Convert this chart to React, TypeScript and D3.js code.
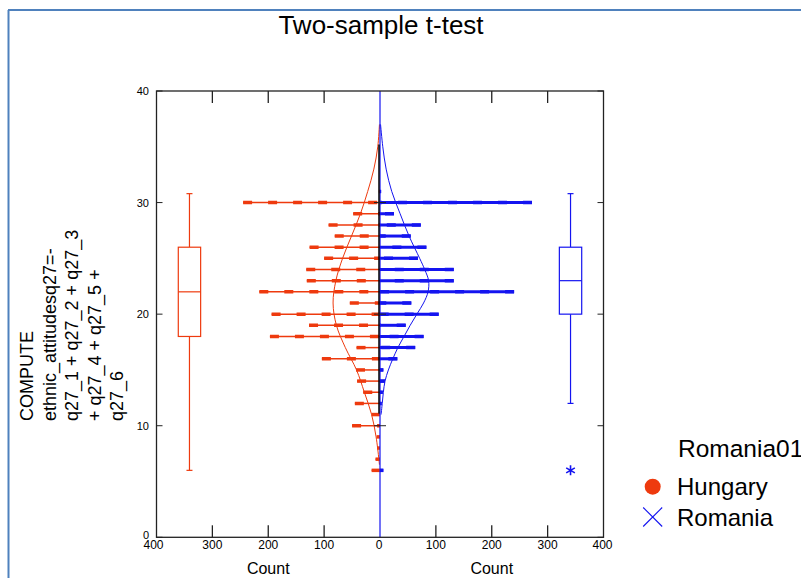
import React, { useEffect, useRef } from 'react';
import * as d3 from 'd3';

// histogram bins (score value) and counts per group
const binValues = [31, 30, 29, 28, 27, 26, 25, 24, 23, 22, 21, 20, 19, 18, 17, 16, 15, 14, 13, 12, 11, 10, 9, 8, 7, 6];
const hungaryCounts = [2, 245, 48, 92, 81, 126, 100, 132, 131, 216, 54, 194, 127, 197, 42, 104, 43, 41, 30, 45, 15, 50, 6, 5, 8, 15];
const romaniaCounts = [2, 272, 25, 73, 55, 83, 68, 132, 132, 240, 56, 105, 46, 78, 63, 31, 6, 9, 5, 3, 0, 0, 0, 0, 0, 6];

// fitted normal curves (value, count)
const hungaryCurve: [number, number][] = [
  [37, 1], [35, 4], [33, 11], [31, 22], [29, 35], [27, 51], [25, 67], [23, 79], [21, 84],
  [19, 78], [17, 62], [15, 42], [13, 28], [11, 15], [9, 7], [7, 2], [6.5, 1],
];
const romaniaCurve: [number, number][] = [
  [37, 1], [35, 5], [33, 11], [31, 21], [29, 36], [27, 52], [25, 71], [24, 80], [23, 87],
  [22, 86], [21, 78], [20, 66], [19, 54], [18, 43], [17, 32], [16, 23], [15, 15], [14, 9],
  [13, 6], [12, 4], [11, 2],
];

// box plot stats: [min whisker, q1, median, q3, max whisker]
const hungaryBox = [6, 18, 22, 26, 30.8];
const romaniaBox = [12, 20, 23, 26, 30.8];
const romaniaOutliers = [6];

const yTicks = [0, 10, 20, 30, 40];
const countTicks = [400, 300, 200, 100];
const titleLines = ['COMPUTE', 'ethnic_attitudesq27=-', 'q27_1 + q27_2 + q27_3', '+ q27_4 + q27_5 +', 'q27_6'];
const legendTitle = 'Romania01';
const groups = ['Hungary', 'Romania'];

const RED = '#ee3a0e';
const BLUE = '#1414f0';
const FONT = 'Liberation Sans, Arial, sans-serif';

export default function App() {
  const ref = useRef<SVGSVGElement>(null);

  useEffect(() => {
    const svg = d3.select(ref.current);
    svg.selectAll('*').remove();

    const width = 801;
    const height = 578;
    const left = 156.5, right = 603.5, mid = 380, top = 91, bottom = 537.3;

    svg.attr('width', width).attr('height', height);

    const y = d3.scaleLinear().domain([0, 40]).range([bottom, top]);
    const xL = d3.scaleLinear().domain([0, 400]).range([mid, left]);
    const xR = d3.scaleLinear().domain([0, 400]).range([mid, right]);

    // outer blue frame
    svg.append('line').attr('x1', 8).attr('x2', width).attr('y1', 10).attr('y2', 10)
      .attr('stroke', '#4f81bd').attr('stroke-width', 2);
    svg.append('line').attr('x1', 8.5).attr('x2', 8.5).attr('y1', 10).attr('y2', height)
      .attr('stroke', '#4f81bd').attr('stroke-width', 2);

    svg.append('text').attr('x', 381).attr('y', 34).attr('text-anchor', 'middle')
      .style('font-family', FONT).style('font-size', '26px').text('Two-sample t-test');

    // histogram bars
    const drawBars = (counts: number[], x: d3.ScaleLinear<number, number>, color: string, base: number) => {
      const g = svg.append('g');
      const data = binValues.map((v, i) => ({ v, c: counts[i] })).filter((d) => d.c > 0);
      g.selectAll('line.base').data(data).join('line').attr('class', 'base')
        .attr('x1', x(0)).attr('x2', (d) => x(d.c))
        .attr('y1', (d) => y(d.v)).attr('y2', (d) => y(d.v))
        .attr('stroke', color).attr('stroke-width', base);
      g.selectAll('line.dash').data(data).join('line').attr('class', 'dash')
        .attr('x1', (d) => x(d.c)).attr('x2', x(0))
        .attr('y1', (d) => y(d.v)).attr('y2', (d) => y(d.v))
        .attr('stroke', color).attr('stroke-width', 3.5).attr('stroke-dasharray', '9 16');
    };
    drawBars(hungaryCounts, xL, RED, 1.5);
    drawBars(romaniaCounts, xR, BLUE, 3);

    // normal curves
    const drawCurve = (pts: [number, number][], x: d3.ScaleLinear<number, number>, color: string) => {
      const line = d3.line<[number, number]>().x((d) => x(d[1])).y((d) => y(d[0])).curve(d3.curveCatmullRom);
      svg.append('path').attr('d', line(pts)).attr('fill', 'none').attr('stroke', color).attr('stroke-width', 1);
    };
    drawCurve(hungaryCurve, xL, RED);
    drawCurve(romaniaCurve, xR, BLUE);

    // centre lines
    svg.append('line').attr('x1', mid).attr('x2', mid).attr('y1', top).attr('y2', bottom)
      .attr('stroke', BLUE).attr('stroke-width', 1.2);
    svg.append('line').attr('x1', mid - 1).attr('x2', mid - 1).attr('y1', y(35.2)).attr('y2', y(11.1))
      .attr('stroke', '#000').attr('stroke-width', 1.5);
    [10, 20, 30].forEach((t) => {
      svg.append('line').attr('x1', mid - 6).attr('x2', mid + 6).attr('y1', y(t)).attr('y2', y(t))
        .attr('stroke', '#222').attr('stroke-width', 1);
    });

    // frame
    svg.append('rect').attr('x', left).attr('y', top).attr('width', right - left).attr('height', bottom - top)
      .attr('fill', 'none').attr('stroke', '#222').attr('stroke-width', 1.3);

    // y ticks (inward, both sides)
    yTicks.forEach((t) => {
      svg.append('line').attr('x1', left).attr('x2', left + 6).attr('y1', y(t)).attr('y2', y(t)).attr('stroke', '#222');
      svg.append('line').attr('x1', right - 6).attr('x2', right).attr('y1', y(t)).attr('y2', y(t)).attr('stroke', '#222');
      svg.append('text').attr('x', 149).attr('y', y(t) + (t === 0 ? 2 : 4)).attr('text-anchor', 'end')
        .style('font-family', FONT).style('font-size', '11px').text(t);
    });

    // count ticks (top and bottom, inward) and labels
    [xL, xR].forEach((x) => {
      countTicks.forEach((t) => {
        if (t < 400) {
          svg.append('line').attr('x1', x(t)).attr('x2', x(t)).attr('y1', top).attr('y2', top + 12).attr('stroke', '#222').attr('stroke-width', 1.3);
          svg.append('line').attr('x1', x(t)).attr('x2', x(t)).attr('y1', bottom - 12).attr('y2', bottom).attr('stroke', '#222').attr('stroke-width', 1.3);
        }
        const dx = t === 400 ? (x === xL ? -3 : -1) : 0;
        svg.append('text').attr('x', x(t) + dx).attr('y', 549).attr('text-anchor', 'middle')
          .style('font-family', FONT).style('font-size', '12px').text(t);
      });
      svg.append('text').attr('x', x(200)).attr('y', 574).attr('text-anchor', 'middle')
        .style('font-family', FONT).style('font-size', '16px').text('Count');
    });
    svg.append('text').attr('x', mid - 1).attr('y', 549).attr('text-anchor', 'middle')
      .style('font-family', FONT).style('font-size', '12px').text(0);

    // box plots
    const drawBox = (stats: number[], x: d3.ScaleLinear<number, number>, color: string) => {
      const cx = x(341);
      const half = Math.abs(x(341) - x(321));
      const [lo, q1, med, q3, hi] = stats;
      const g = svg.append('g').attr('stroke', color).attr('stroke-width', 1.2).attr('fill', 'none');
      g.append('line').attr('x1', cx).attr('x2', cx).attr('y1', y(hi)).attr('y2', y(q3));
      g.append('line').attr('x1', cx).attr('x2', cx).attr('y1', y(q1)).attr('y2', y(lo));
      g.append('line').attr('x1', cx - 3).attr('x2', cx + 3).attr('y1', y(hi)).attr('y2', y(hi));
      g.append('line').attr('x1', cx - 3).attr('x2', cx + 3).attr('y1', y(lo)).attr('y2', y(lo));
      g.append('rect').attr('x', cx - half).attr('y', y(q3)).attr('width', half * 2).attr('height', y(q1) - y(q3)).attr('fill', '#fff');
      g.append('line').attr('x1', cx - half).attr('x2', cx + half).attr('y1', y(med)).attr('y2', y(med));
    };
    drawBox(hungaryBox, xL, RED);
    drawBox(romaniaBox, xR, BLUE);
    const star = d3.symbol().type(d3.symbolAsterisk).size(70);
    romaniaOutliers.forEach((o) => {
      svg.append('path').attr('d', star()).attr('transform', `translate(${xR(341)},${y(o)})`)
        .attr('fill', 'none').attr('stroke', BLUE).attr('stroke-width', 1.6);
    });

    // y axis title
    titleLines.forEach((t, i) => {
      svg.append('text').attr('transform', `translate(${33 + i * 22.6},421) rotate(-90)`)
        .style('font-family', FONT).style('font-size', '18px').text(t);
    });

    // legend
    svg.append('text').attr('x', 678).attr('y', 457).style('font-family', FONT).style('font-size', '24.5px').text(legendTitle);
    svg.append('circle').attr('cx', 652.7).attr('cy', 486.7).attr('r', 8).attr('fill', RED);
    const xs = 9.5;
    svg.append('path').attr('d', `M${652.7 - xs},${517 - xs}L${652.7 + xs},${517 + xs}M${652.7 - xs},${517 + xs}L${652.7 + xs},${517 - xs}`)
      .attr('stroke', BLUE).attr('stroke-width', 1.1).attr('fill', 'none');
    groups.forEach((gname, i) => {
      svg.append('text').attr('x', 677).attr('y', 495 + i * 30.5).style('font-family', FONT).style('font-size', '24px').text(gname);
    });
  }, []);

  return <svg ref={ref} style={{ position: 'absolute', left: 0, top: 0 }}></svg>;
}
